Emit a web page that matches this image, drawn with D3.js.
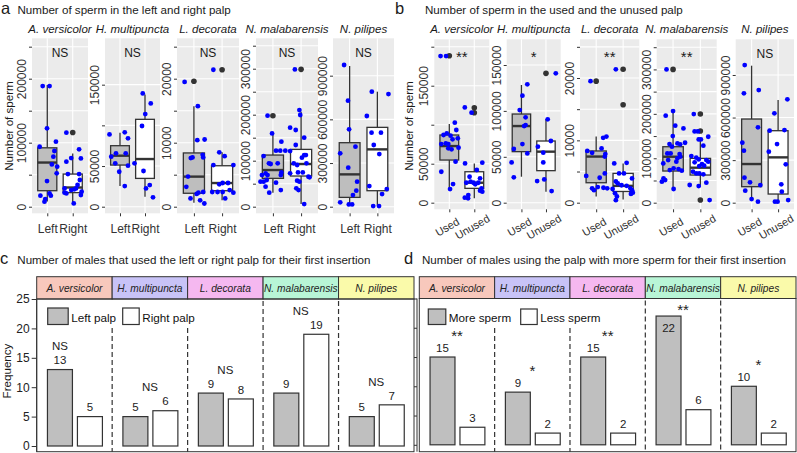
<!DOCTYPE html>
<html><head><meta charset="utf-8">
<script src="https://cdn.jsdelivr.net/npm/d3@7"></script>
<style>
body{margin:0;background:#fff}
svg{display:block}
text{font-family:"Liberation Sans",Arial,Helvetica,sans-serif}
</style>
</head><body>
<svg id="chart" width="797" height="453"></svg>
<script>
// ---------------- DATA ----------------
const species = ["A. versicolor","H. multipuncta","L. decorata","N. malabarensis","N. pilipes"];
const palpGroups = ["Left","Right"];
const useGroups = ["Used","Unused"];

// panel a: sperm in left / right palp
const sigA = ["NS","NS","NS","NS","NS"];
const yLimitsA = [[-10300,263100],[-8100,207000],[-1030,26310],[-14350,366100],[-45300,1156800]];
const yTicksA = [[0,50000,100000,150000,200000,250000],[0,50000,100000,150000],[0,5000,10000,15000,20000,25000],[0,50000,100000,150000,200000,250000,300000,350000],[0,300000,600000,900000]];
const yLabelsA = [[0,100000,200000],[0,50000,150000],[0,10000,20000],[0,100000,200000,300000],[0,300000,600000,900000]];
// box stats [lower whisker, q1, median, q3, upper whisker]
const boxA = [
  [[8000,25000,69000,92000,190000],[6000,22000,30000,51000,83000]],
  [[25400,51200,62700,75000,91000],[12300,34800,58600,107400,138000]],
  [[600,2100,4700,8400,15700],[1000,2500,3700,6400,8500]],
  [[30400,61600,79700,112300,155800],[5800,66700,92800,124600,206500]],
  [[18300,64100,222100,439700,966400],[6900,109900,393900,545000,790100]]
];
const outliersA = [[[],[116000]],[[],[]],[[19600],[21400]],[[197800],[298600]],[[],[]]];
// jittered observations [jitter (category units), value]
const pointsA = [
  [[[-0.18,188500],[0.09,188500],[-0.01,122400],[-0.30,93700],[0.34,101600],[0.28,87000],[0.39,62500],[0.18,66100],[0.37,52100],[-0.01,40100],[-0.27,17200],[0.09,20800],[0.14,17200],[-0.08,12000],[-0.11,7800],[0.24,78100]],
   [[-0.25,115600],[0.25,89600],[-0.25,70300],[-0.06,76000],[0.32,75500],[-0.19,51000],[0.25,51000],[0.28,41700],[0.19,33900],[0.13,28600],[-0.32,28600],[-0.06,26000],[0.06,27100],[0.35,23400],[-0.32,21900],[0.32,18200],[-0.25,20800],[0.04,5200]]],
  [[[-0.42,88900],[0.19,91400],[0.32,84000],[-0.16,65600],[0.23,65600],[-0.35,61500],[-0.19,53300],[0.32,50400],[-0.03,43000],[0.19,25400]],
   [[-0.09,139300],[0.23,127000],[0.01,113900],[-0.12,99200],[-0.42,53300],[-0.06,43900],[0.19,26600],[0.04,22500],[0.32,11500]]],
  [[[-0.33,19500],[0.14,15700],[0.12,10400],[0.38,10500],[-0.05,7700],[-0.11,7600],[0.31,8100],[0.33,7700],[-0.21,4700],[-0.27,3100],[-0.12,1300],[0.1,2000],[0.16,2200],[0.33,2300],[0.22,1000],[0.37,500]],
   [[-0.31,21400],[-0.1,8500],[0.09,7900],[-0.31,6500],[0.4,6500],[0.02,3700],[0.21,3700],[-0.1,3500],[-0.35,2300],[-0.16,2300],[0.02,2300],[0.27,2600],[0.4,2200],[0.11,1300]]],
  [[[-0.19,197800],[-0.03,159400],[0.3,141300],[0.26,121700],[0.11,121700],[0.44,121700],[-0.33,110100],[-0.14,94200],[-0.08,92800],[0.17,94200],[0.3,74600],[0.28,68800],[-0.26,72500],[-0.39,68800],[-0.19,68800],[-0.33,54300],[-0.22,58000],[-0.44,54300],[-0.26,43500],[-0.13,30400],[0.11,52200],[0.28,36200]],
   [[-0.22,298500],[-0.06,210100],[-0.03,199300],[-0.39,171700],[-0.19,166700],[-0.19,134100],[0.11,150000],[-0.39,121000],[-0.14,90600],[-0.26,94200],[0.11,112300],[0.17,112300],[0.03,106500],[0.19,94200],[-0.11,74600],[0.06,74600],[-0.39,72500],[0.26,65200],[0.3,63800],[-0.14,56500],[-0.06,54300],[-0.17,39900],[-0.09,36200],[0.11,5800]]],
  [[[-0.2,973300],[-0.06,728200],[-0.02,531300],[0.21,412200],[-0.34,366400],[-0.05,267900],[0.27,171800],[0.24,109900],[0.12,80200],[-0.34,29800],[-0.03,16000],[0.09,16000]],
   [[-0.2,790000],[0.4,774000],[-0.38,622900],[-0.21,508400],[0.13,508400],[-0.13,423700],[0.07,361800],[-0.29,142000],[0.17,87000],[0.34,121400],[-0.15,4600],[0.06,4600]]]
];

// panel b: sperm in used / unused palp
const sigB = ["**","*","**","**","NS"];
const yLimitsB = [[-8460,209500],[-7190,178000],[-1060,26210],[-14850,367800],[-46500,1151500]];
const yTicksB = [[0,50000,100000,150000,200000],[0,50000,100000,150000],[0,5000,10000,15000,20000,25000],[0,50000,100000,150000,200000,250000,300000,350000],[0,300000,600000,900000]];
const yLabelsB = [[0,50000,150000],[0,50000,100000,150000],[0,10000,20000],[0,100000,200000,300000],[0,300000,600000,900000]];
const boxB = [
  [[18400,54700,72600,86800,100900],[5600,18400,25600,39700,50400]],
  [[28300,55600,83500,96600,128200],[12000,34900,55600,67200,90800]],
  [[1000,3200,7400,8300,10600],[500,1800,2700,4700,6300]],
  [[30000,71300,103500,126000,210000],[36000,62300,78800,99800,141000]],
  [[23500,112800,272500,589700,965500],[7000,61100,319500,507400,723600]]
];
const outliersB = [[[188500],[121800,115400]],[[],[140900]],[[19500],[21400,15700]],[[300000],[199500,161300,6000]],[[],[]]];
const pointsB = [
  [[[-0.35,188000],[-0.13,188000],[0.22,102600],[0.28,93200],[-0.1,88900],[-0.23,86800],[-0.14,76100],[-0.32,75200],[-0.04,75200],[0.05,85900],[0.13,81200],[0.34,82500],[0.37,70500],[-0.04,69700],[0.09,68400],[0.25,52600],[-0.32,39700],[0.15,23900],[0.03,17500]],
   [[-0.38,122200],[-0.11,115400],[-0.37,50400],[0.32,51300],[0.1,41900],[-0.19,33300],[-0.15,26900],[0.23,31200],[-0.03,25600],[-0.32,25600],[0.16,25600],[0.04,23500],[0.29,18400],[0.32,14100],[0.23,15400],[-0.24,9800],[-0.25,5600],[-0.38,6400]]],
  [[[0.24,128900],[0.04,116600],[-0.07,100900],[0.17,93000],[0.17,84600],[0.11,83500],[0.04,63900],[-0.31,58500],[0.24,53700],[-0.4,43900],[-0.31,27600]],
   [[0.4,140900],[0.07,90800],[-0.33,61000],[0.2,67200],[-0.11,54500],[-0.11,43900],[-0.07,25400],[-0.36,23600],[0.23,12700]]],
  [[[-0.21,19500],[0.26,10400],[0.38,10600],[0.2,8700],[-0.33,8300],[-0.15,8000],[0.34,7800],[0.32,7400],[0.32,4700],[-0.37,4300],[0.13,4000],[-0.15,2300],[0.06,2500],[0.27,2400],[0.41,2300],[-0.08,2000]],
   [[-0.27,21400],[-0.33,6300],[0.13,6400],[0.03,4700],[-0.15,4700],[0.33,3900],[-0.27,3400],[-0.2,3100],[-0.06,2800],[0.13,2700],[0.27,2300],[0.33,2000],[-0.3,1500],[-0.23,1000],[-0.27,400],[0.29,1400],[0.36,1600],[-0.39,2200]]],
  [[[-0.24,300100],[0,206300],[0.08,173300],[0.38,167300],[-0.27,195800],[-0.01,150000],[0.44,135000],[-0.13,132000],[-0.04,126000],[0.16,133500],[0.26,131300],[-0.21,111000],[-0.09,111000],[0.24,109500],[0.16,99800],[0.26,103500],[0.12,92300],[-0.18,96000],[-0.36,88500],[-0.29,51000],[-0.41,47300],[-0.35,54800],[0.2,75800],[0.32,72000],[-0.12,73500],[0.02,77300],[0.02,30800]],
   [[-0.24,199600],[-0.09,160500],[-0.21,160500],[-0.06,142500],[0.02,142500],[0.29,148500],[0.11,128300],[-0.33,105000],[-0.15,101300],[-0.06,97500],[-0.21,90800],[0.22,96000],[-0.04,82500],[0.06,87000],[0.14,83300],[0.29,92300],[-0.27,69800],[-0.15,66000],[-0.04,66000],[0.11,63800],[-0.39,39800],[-0.06,37500],[0.22,45000],[0.34,6000]]],
  [[[-0.26,970200],[-0.29,770500],[0.27,794000],[-0.35,422800],[-0.29,366400],[0.24,530900],[-0.27,176200],[-0.06,143300],[0.33,124500],[-0.24,84600],[0,25800],[0.24,7000]],
   [[0.35,728200],[-0.14,629500],[-0.32,507400],[0.24,512100],[-0.04,413400],[-0.35,359400],[0.29,270100],[0.12,129200],[0.14,77500],[-0.12,7000],[-0.02,7000],[0.38,18800]]]
];

// panel c: males using left / right palp first
const leftPalp = [13,5,9,9,5];
const rightPalp = [5,6,8,19,7];
const sigC = ["NS","NS","NS","NS","NS"];
// panel d: males using palp with more / less sperm first
const moreSperm = [15,9,15,22,10];
const lessSperm = [3,2,2,6,2];
const sigD = ["**","*","**","**","*"];
const freqTicks = [0,5,10,15,20,25];

// ---------------- DRAWING ----------------
const svg = d3.select("#chart");
svg.append("rect").attr("width",797).attr("height",453).attr("fill","#fff");
const INK = "#333";
const stripColors = ["#f8c8bc","#c8c3f7","#f5b8f0","#b8f5d6","#fafaaa"];
const isStar = s => s.indexOf("*") >= 0;

function label(x, y, s, size, opts = {}) {
  const t = svg.append("text").attr("x",x).attr("y",y).text(s)
    .style("font-size", size + "px").attr("fill", opts.fill || "#1a1a1a")
    .attr("text-anchor", opts.anchor || "start");
  if (opts.italic) t.style("font-style","italic");
  if (opts.transform) t.attr("transform", opts.transform);
  return t;
}

function boxFacet(c) {
  const g = svg.append("g");
  const x = d3.scalePoint().domain(c.groups).range([c.x0,c.x1]).padding(0.6);
  const y = d3.scaleLinear().domain(c.domain).range([c.y1,c.y0]);
  const step = x.step();
  g.append("rect").attr("x",c.x0).attr("y",c.y0).attr("width",c.x1-c.x0).attr("height",c.y1-c.y0).attr("fill","#ebebeb");
  c.ticks.forEach(t => g.append("line").attr("x1",c.x0).attr("x2",c.x1).attr("y1",y(t)).attr("y2",y(t)).attr("stroke","#fff").attr("stroke-width",1.1));
  c.groups.forEach(gr => g.append("line").attr("x1",x(gr)).attr("x2",x(gr)).attr("y1",c.y0).attr("y2",c.y1).attr("stroke","#fff").attr("stroke-width",1.1));

  // y axis
  const ya = d3.axisLeft(y).tickValues(c.ticks).tickSize(3).tickFormat(d => c.labels.includes(d) ? String(d) : "");
  const yg = g.append("g").attr("transform",`translate(${c.x0},0)`).call(ya);
  yg.select(".domain").remove();
  yg.selectAll(".tick line").attr("stroke",INK).attr("stroke-width",1);
  yg.selectAll(".tick text").attr("transform","rotate(-90)").attr("x",0).attr("y",-6).attr("dy",null)
    .attr("text-anchor","middle").attr("fill",INK).style("font-size","12px");

  // x axis
  const xa = d3.axisBottom(x).tickSize(3);
  const xg = g.append("g").attr("transform",`translate(0,${c.y1})`).call(xa);
  xg.select(".domain").remove();
  xg.selectAll(".tick line").attr("stroke",INK).attr("stroke-width",1);
  const xt = xg.selectAll(".tick text").attr("fill",INK).attr("dy",null);
  if (c.rotate) {
    xt.style("font-size","11px").attr("y",null).attr("text-anchor","middle").attr("dominant-baseline","central")
      .attr("transform","translate(-2.5,17.5) rotate(-30)");
  } else {
    xt.style("font-size","12px").attr("y",20);
  }

  // boxes
  c.groups.forEach((gr,i) => {
    const [lo,q1,md,q3,hi] = c.box[i];
    const cx = x(gr), bw = step*0.75;
    g.append("line").attr("x1",cx).attr("x2",cx).attr("y1",y(lo)).attr("y2",y(q1)).attr("stroke",INK).attr("stroke-width",1.3);
    g.append("line").attr("x1",cx).attr("x2",cx).attr("y1",y(q3)).attr("y2",y(hi)).attr("stroke",INK).attr("stroke-width",1.3);
    g.append("rect").attr("x",cx-bw/2).attr("width",bw).attr("y",y(q3)).attr("height",y(q1)-y(q3))
      .attr("fill", i===0 ? "#bebebe" : "#fff").attr("stroke",INK).attr("stroke-width",1.3);
    g.append("line").attr("x1",cx-bw/2).attr("x2",cx+bw/2).attr("y1",y(md)).attr("y2",y(md)).attr("stroke",INK).attr("stroke-width",2.4);
    c.outs[i].forEach(v => g.append("circle").attr("cx",cx).attr("cy",y(v)).attr("r",2.8).attr("fill",INK));
  });
  c.groups.forEach((gr,i) => {
    c.pts[i].forEach(([j,v]) => g.append("circle").attr("cx",x(gr)+j*step).attr("cy",y(v)).attr("r",2.4).attr("fill","#0000ff"));
  });

  if (isStar(c.sig)) label((c.x0+c.x1)/2, c.y0+22.7, c.sig, 15, {anchor:"middle"});
  else label((c.x0+c.x1)/2, c.y0+19, c.sig, 12, {anchor:"middle"});
  label((c.x0+c.x1)/2, 33.3, c.title, 11.5, {anchor:"middle", italic:true});
}

// panel a
label(1, 13.5, "a", 16.5);
label(17.5, 13.5, "Number of sperm in the left and right palp", 11.6);
label(0, 0, "Number of sperm", 11.6, {anchor:"middle", transform:"translate(12.5,126) rotate(-90)"});
const facetsA = [[32,88],[105,160],[177,239],[256,318],[333,394]];
species.forEach((s,i) => boxFacet({
  x0:facetsA[i][0], x1:facetsA[i][1], y0:38.3, y1:213.3, groups:palpGroups,
  domain:yLimitsA[i], ticks:yTicksA[i], labels:yLabelsA[i], box:boxA[i], outs:outliersA[i],
  pts:pointsA[i], sig:sigA[i], title:s, rotate:false
}));

// panel b
label(395, 13.5, "b", 16.5);
label(425, 13.5, "Number of sperm in the used and the unused palp", 11.6);
label(0, 0, "Number of sperm", 11.6, {anchor:"middle", transform:"translate(412.5,126) rotate(-90)"});
const facetsB = [[434.3,489.3],[506.7,560.7],[580,639.3],[656.7,716.7],[735.7,794]];
species.forEach((s,i) => boxFacet({
  x0:facetsB[i][0], x1:facetsB[i][1], y0:39.3, y1:209.3, groups:useGroups,
  domain:yLimitsB[i], ticks:yTicksB[i], labels:yLabelsB[i], box:boxB[i], outs:outliersB[i],
  pts:pointsB[i], sig:sigB[i], title:s, rotate:true
}));

// bar panels
function barPanel(c) {
  const g = svg.append("g");
  const y = d3.scaleLinear().domain([0,25]).range([c.yZero, c.yTop]);
  const fx = d3.scaleBand().domain(species).range([c.x0, c.x1]);
  const fw = fx.bandwidth();
  species.forEach((s,i) => {
    g.append("rect").attr("x",fx(s)).attr("y",c.stripTop).attr("width",fw).attr("height",c.yTop-c.stripTop)
      .attr("fill",stripColors[i]).attr("stroke",INK).attr("stroke-width",1);
    g.append("text").attr("x",fx(s)+fw/2).attr("y",c.stripTop+15.5).attr("text-anchor","middle")
      .style("font-size","10.2px").style("font-style","italic").attr("fill","#222").text(s);
  });
  species.slice(1).forEach((s,i) => {
    g.append("line").attr("x1",fx(s)).attr("x2",fx(s)).attr("y1", i < 2 ? 328 : c.yTop+2).attr("y2",c.bottom)
      .attr("stroke",INK).attr("stroke-width",1.2).attr("stroke-dasharray","5,3");
  });
  g.append("rect").attr("x",c.x0).attr("y",c.yTop).attr("width",c.x1-c.x0).attr("height",c.bottom-c.yTop)
    .attr("fill","none").attr("stroke",INK).attr("stroke-width",1);
  const ya = d3.axisLeft(y).tickValues(freqTicks).tickSize(c.showLabels ? 5 : 3).tickFormat(c.showLabels ? d3.format("d") : () => "");
  const ag = g.append("g").attr("transform",`translate(${c.axisX},0)`).call(ya);
  ag.select(".domain").attr("d",`M0,${c.yTop}V${c.bottom}`).attr("stroke",INK);
  ag.selectAll(".tick line").attr("stroke",INK);
  ag.selectAll(".tick text").attr("fill","#222").style("font-size","12px").attr("x",-7);
  species.forEach((s,i) => {
    const bx = d3.scaleBand().domain([0,1]).range([fx(s)+10.75, fx(s)+fw-9.75]).paddingInner(1/6);
    const vals = [c.v1[i], c.v2[i]];
    let numBase = Infinity, barTop = Infinity, inside = false;
    vals.forEach((v,k) => {
      g.append("rect").attr("x",bx(k)).attr("width",bx.bandwidth()).attr("y",y(v)).attr("height",y(0)-y(v))
        .attr("fill", k===0 ? "#bfbfbf" : "#fff").attr("stroke",INK).attr("stroke-width",1.2);
      const ins = v > 20;
      const ny = ins ? y(v) + 16 : y(v) - 5.3;
      g.append("text").attr("x",bx(k)+bx.bandwidth()/2).attr("y",ny).attr("text-anchor","middle")
        .style("font-size","11.5px").attr("fill","#222").text(v);
      if (y(v) < barTop) { barTop = y(v); numBase = ny; inside = ins; }
    });
    const star = isStar(c.sig[i]);
    const sy = inside ? barTop - 1.2 : numBase - (star ? 11 : 14);
    const sx = c.sigOverFirst[i] ? bx(0)+bx.bandwidth()/2 : fx(s)+fw/2;
    g.append("text").attr("x",sx).attr("y",sy).attr("text-anchor","middle")
      .style("font-size", star ? "15px" : "11.5px").attr("fill","#222").text(c.sig[i]);
  });
  c.legend.forEach(L => {
    g.append("rect").attr("x",L.x).attr("y",c.legY).attr("width",L.w).attr("height",L.h)
      .attr("fill",L.fill).attr("stroke",INK).attr("stroke-width",1.2);
    g.append("text").attr("x",L.x+L.w+3).attr("y",321.5).style("font-size","11.7px").attr("fill","#111").text(L.text);
  });
}

label(0, 264, "c", 16.5);
label(17.3, 264, "Number of males that used the left or right palp for their first insertion", 11.6);
label(0, 0, "Frequency", 11.6, {anchor:"middle", transform:"translate(10.5,371) rotate(-90)"});
barPanel({x0:36.7, x1:414, axisX:36.7, stripTop:276.7, yTop:299, yZero:446, bottom:451.7, showLabels:true,
  v1:leftPalp, v2:rightPalp, sig:sigC, sigOverFirst:[true,false,false,false,false], legY:308,
  legend:[{x:47.7,w:20.5,h:16.5,fill:"#bfbfbf",text:"Left palp"},{x:122.7,w:16.5,h:16.5,fill:"#fff",text:"Right palp"}]});

label(404, 264, "d", 16.5);
label(422, 264, "Number of males using the palp with more sperm for their first insertion", 11.6);
barPanel({x0:419.3, x1:796, axisX:417, stripTop:276.7, yTop:298.5, yZero:444.8, bottom:451.7, showLabels:false,
  v1:moreSperm, v2:lessSperm, sig:sigD, sigOverFirst:[false,false,false,false,false], legY:309,
  legend:[{x:428.3,w:17.5,h:15.5,fill:"#bfbfbf",text:"More sperm"},{x:520.7,w:16.5,h:15.5,fill:"#fff",text:"Less sperm"}]});
</script>
</body></html>
